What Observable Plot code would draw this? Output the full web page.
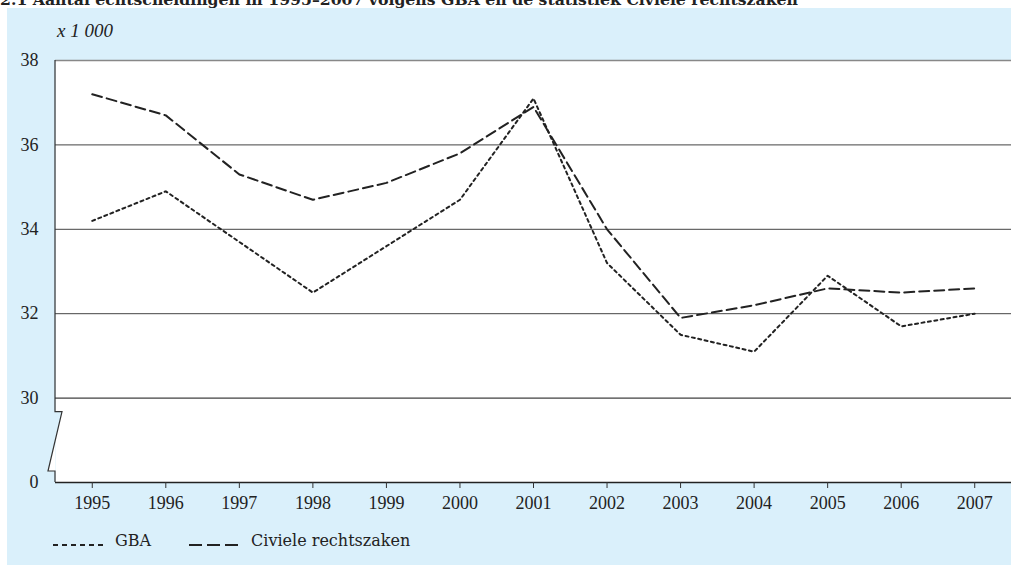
<!DOCTYPE html>
<html>
<head>
<meta charset="utf-8">
<script src="https://cdn.jsdelivr.net/npm/d3@7"></script>
<script src="https://cdn.jsdelivr.net/npm/@observablehq/plot@0.6"></script>
<style>
  html, body { margin: 0; padding: 0; background: #ffffff; width: 1011px; height: 565px; overflow: hidden; }
  body { position: relative; font-family: "DejaVu Serif", "Liberation Serif", serif; color: #222; }
  #title { position: absolute; left: 0; top: -9px; font-weight: bold; font-size: 15.7px; white-space: nowrap; line-height: 17px; }
  #panel { position: absolute; left: 7px; top: 8px; width: 1004px; height: 557px; background: #daf0fb; }
  #chart { position: absolute; left: 0; top: 0; }
  #unit { position: absolute; left: 57px; top: 20px; font-family: "Liberation Serif", serif; font-style: italic; font-size: 19px; }
  #legend { position: absolute; left: 53px; top: 530px; font-size: 16px; display: flex; align-items: center; }
  #legend .item { display: flex; align-items: center; margin-right: 38px; }
  #legend svg { margin-right: 12px; }
</style>
</head>
<body>
<div id="panel"></div>
<div id="title"></div>
<div id="chart"></div>
<div id="unit"></div>
<div id="legend"></div>
<script>
const titleText = "2.1 Aantal echtscheidingen in 1995–2007 volgens GBA en de statistiek Civiele rechtszaken";
const unitText = "x 1 000";
const years = [1995, 1996, 1997, 1998, 1999, 2000, 2001, 2002, 2003, 2004, 2005, 2006, 2007];
const gba = [34.2, 34.9, 33.7, 32.5, 33.6, 34.7, 37.1, 33.2, 31.5, 31.1, 32.9, 31.7, 32.0];
const civiel = [37.2, 36.7, 35.3, 34.7, 35.1, 35.8, 36.9, 34.0, 31.9, 32.2, 32.6, 32.5, 32.6];
const seriesNames = ["GBA", "Civiele rechtszaken"];
const yTicks = [28, 30, 32, 34, 36, 38];
const yTickLabels = ["0", "30", "32", "34", "36", "38"];
const dashes = ["3,3.5", "10,5"];

document.getElementById("title").textContent = titleText;
document.getElementById("unit").textContent = unitText;

const gbaRows = years.map((y, i) => ({year: y, value: gba[i]}));
const civRows = years.map((y, i) => ({year: y, value: civiel[i]}));

const numFont = "Liberation Serif";

const plot = Plot.plot({
  width: 1011,
  height: 512,
  marginLeft: 55,
  marginRight: 0,
  marginTop: 60,
  marginBottom: 30,
  style: {background: "transparent", fontFamily: numFont, fontSize: "18px", color: "#222"},
  x: {domain: [1994.5, 2007.5], label: null},
  y: {domain: [28, 38], label: null},
  marks: [
    Plot.frame({fill: "white", stroke: null}),
    Plot.ruleY([32, 34, 36], {stroke: "#444", strokeWidth: 1}),
    Plot.ruleY([30], {stroke: "#111", strokeWidth: 1}),
    Plot.ruleY([38], {stroke: "#888", strokeWidth: 1.5}),
    Plot.ruleY([28], {stroke: "#222", strokeWidth: 1.5}),
    Plot.axisX({ticks: years, tickFormat: d => String(d), tickSize: 6, tickPadding: 8,
      stroke: "#333", fill: "#222", label: null}),
    Plot.axisY({ticks: yTicks, tickFormat: d => yTickLabels[yTicks.indexOf(d)], tickSize: 0, tickPadding: 17,
      fill: "#222", label: null}),
    Plot.line(gbaRows, {x: "year", y: "value", stroke: "#222", strokeWidth: 2, strokeDasharray: dashes[0]}),
    Plot.line(civRows, {x: "year", y: "value", stroke: "#222", strokeWidth: 2, strokeDasharray: dashes[1]})
  ]
});

// axis break decoration, positioned through the plot's own scales
const sx = plot.scale("x"), sy = plot.scale("y");
const x0 = sx.apply(1994.5);
const yTop = sy.apply(38), y30 = sy.apply(30), y0 = sy.apply(28);
const a = y30 + 14, b = y0 - 11, off = 7;
const mid = a + (b - a) / 2;
const svg = d3.select(plot);
svg.append("path")
  .attr("d", `M${x0},${a}H${x0 + off}L${x0},${mid}Z`)
  .attr("fill", "#daf0fb");
svg.append("path")
  .attr("d", `M${x0},${mid}L${x0 - off},${b}H${x0}Z`)
  .attr("fill", "white");
svg.append("path")
  .attr("d", `M${x0},${yTop}V${a}H${x0 + off}L${x0 - off},${b}H${x0}V${y0}`)
  .attr("fill", "none").attr("stroke", "#333").attr("stroke-width", 1.2);

document.getElementById("chart").appendChild(plot);

// legend
const legend = d3.select("#legend");
seriesNames.forEach((name, i) => {
  const item = legend.append("div").attr("class", "item");
  const s = item.append("svg").attr("width", 50).attr("height", 20);
  s.append("line").attr("x1", 0).attr("x2", 50).attr("y1", 15).attr("y2", 15)
    .attr("stroke", "#222").attr("stroke-width", 2)
    .attr("stroke-dasharray", i === 0 ? "5,4" : "13,5");
  item.append("span").text(name);
});
</script>
</body>
</html>
